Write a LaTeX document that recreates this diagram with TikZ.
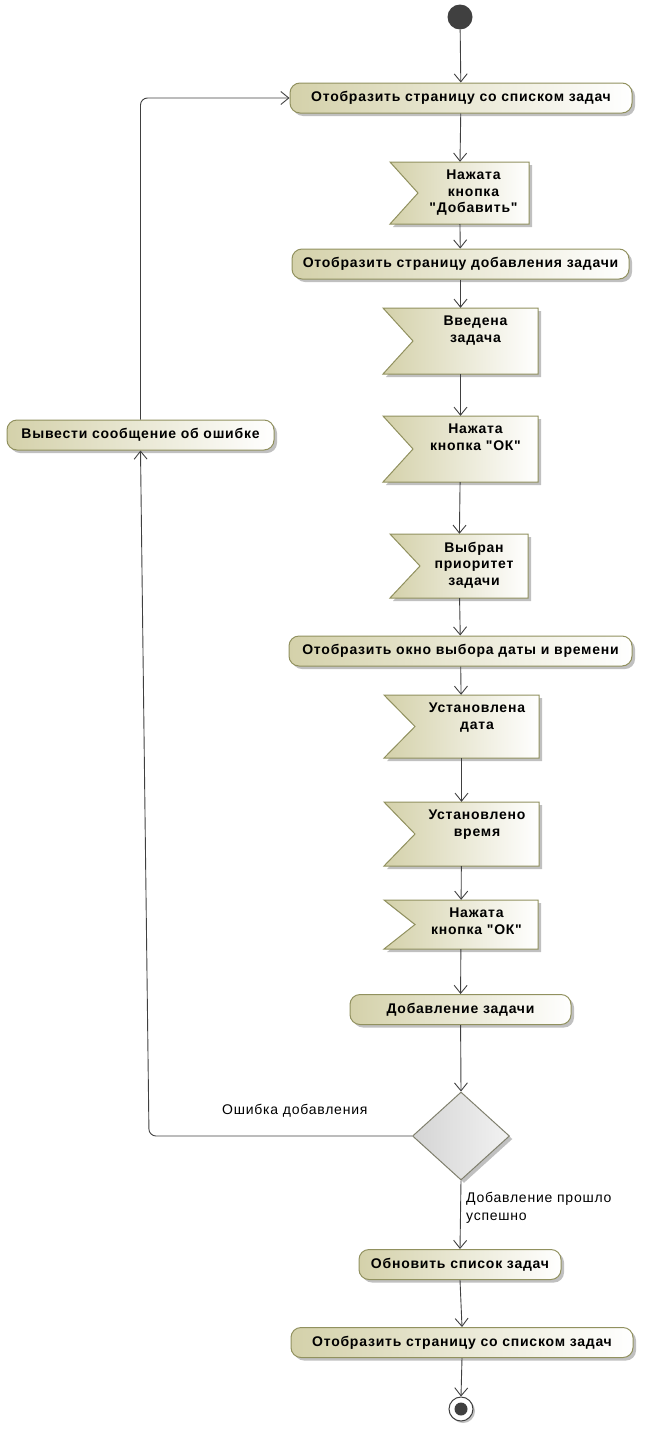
\documentclass[tikz,border=0pt]{standalone}
\usepackage{fontspec}
\setmainfont{Liberation Sans}[Ligatures=TeXOff, LetterSpace=5.5]
\usetikzlibrary{arrows.meta,shadows,shapes.geometric,calc}
\definecolor{actfill}{RGB}{212,209,170}
\definecolor{actdraw}{RGB}{145,145,95}
\definecolor{lnk}{RGB}{64,64,64}
\definecolor{shd}{RGB}{192,192,192}
\definecolor{dotc}{RGB}{64,64,64}
\definecolor{decl}{RGB}{212,212,212}
\definecolor{decr}{RGB}{242,242,242}
\definecolor{decd}{RGB}{128,128,110}
\tikzset{
 act/.style={rounded corners=10pt, draw=actdraw, line width=1pt, left color=actfill, right color=white,
   minimum height=30pt, inner sep=0pt, font=\bfseries\fontsize{14}{16}\selectfont,
   drop shadow={shadow xshift=3pt, shadow yshift=-3pt, fill=shd, opacity=1}},
 evshape/.style={draw=actdraw, line width=1pt, left color=actfill, right color=white},
 evtext/.style={font=\bfseries\fontsize{14}{16.5}\selectfont, align=center, anchor=north, inner sep=0pt},
 flow/.style={draw=lnk, line width=0.9pt, -{Straight Barb[length=8pt,width=13pt,line width=0.9pt]}},
 lbl/.style={font=\fontsize{14}{18}\selectfont, inner sep=0pt, anchor=west, align=left}
}
% name, x1, x2, ytop, ybot, notch x, text
\newcommand\evbox[7]{%
  \node[minimum width={(#3-#2)*1pt}, minimum height={(#5-#4)*1pt}, inner sep=0pt] (#1) at ({(#2+#3)/2},{(#4+#5)/2}) {};
  \fill[shd] (#2+3,#4+3) -- (#3+3,#4+3) -- (#3+3,#5+3) -- (#2+3,#5+3) -- (#6+3,{(#4+#5)/2+3}) -- cycle;
  \path[evshape] (#2,#4) -- (#3,#4) -- (#3,#5) -- (#2,#5) -- (#6,{(#4+#5)/2}) -- cycle;
  \node[evtext] (#1t) at ({(#6+#3)/2},#4+8) {#7};
}
\begin{document}
\begin{tikzpicture}[x=1pt,y=-1pt]
\useasboundingbox (0,0) rectangle (659,1448);

\node[circle, fill=dotc, minimum size=25pt, inner sep=0pt] (start) at (460,17) {};

\node[act, minimum width=342pt] (a1) at (461,98) {Отобразить страницу со списком задач};
\evbox{e1}{390}{529}{162}{224}{418}{Нажата\\кнопка\\"Добавить"}
\node[act, minimum width=337pt] (a2) at (460.5,264) {Отобразить страницу добавления задачи};
\evbox{e2}{383}{538}{308}{374}{413}{Введена\\задача}
\evbox{e3}{383}{538}{416}{482}{413}{Нажата\\кнопка "ОК"}
\evbox{e4}{390}{528}{534}{598}{420}{Выбран\\приоритет\\задачи}
\node[act, minimum width=343pt] (a3) at (460.5,651) {Отобразить окно выбора даты и времени};
\evbox{e5}{384}{539}{695}{758}{415}{Установлена\\дата}
\evbox{e6}{384}{539}{802}{866}{415}{Установлено\\время}
\evbox{e7}{384}{538}{900}{949}{415}{Нажата\\кнопка "ОК"}
\node[act, minimum width=221pt] (a4) at (460.5,1009.5) {Добавление задачи};

\node[diamond, draw=decd, line width=1pt, left color=decl, right color=decr, minimum width=97pt, minimum height=88pt, inner sep=0pt,
  drop shadow={shadow xshift=3pt, shadow yshift=-3pt, fill=shd, opacity=1}] (d) at (461,1136) {};

\node[act, minimum width=202pt] (a5) at (460,1264.5) {Обновить список задач};
\node[act, minimum width=342pt] (a6) at (462,1342.5) {Отобразить страницу со списком задач};

\node[circle, draw=lnk, fill=white, line width=1pt, minimum size=24pt, inner sep=0pt,
  drop shadow={shadow xshift=2pt, shadow yshift=-2pt, fill=shd, opacity=1}] (end) at (461,1409) {};
\node[circle, fill=dotc, minimum size=13pt, inner sep=0pt] (endin) at (end.center) {};

\node[act, minimum width=267pt] (err) at (140.5,435) {Вывести сообщение об ошибке};

\draw[flow] (start) -- (a1);
\draw[flow] (a1) -- (e1);
\draw[flow] (e1) -- (a2);
\draw[flow] (a2) -- (e2);
\draw[flow] (e2) -- (e3);
\draw[flow] (e3) -- (e4);
\draw[flow] (e4) -- (a3);
\draw[flow] (a3) -- (e5);
\draw[flow] (e5) -- (e6);
\draw[flow] (e6) -- (e7);
\draw[flow] (e7) -- (a4);
\draw[flow] (a4) -- (d.north);
\draw[flow] (d.south) -- (a5.north);
\draw[flow] (a5.south) -- (a6.north);
\draw[flow] (a6.south) -- (end.north);

\coordinate (c1) at (149,1136);
\draw[flow, rounded corners=7pt] (d.west) -- (c1) -- (err.south);
\draw[flow, rounded corners=7pt] (err.north) -- (err.north |- a1.west) -- (a1.west);

\node[lbl] (l1) at (222,1111) {Ошибка добавления};
\node[lbl] (l2) at (466,1208) {Добавление прошло\\успешно};
\end{tikzpicture}
\end{document}
